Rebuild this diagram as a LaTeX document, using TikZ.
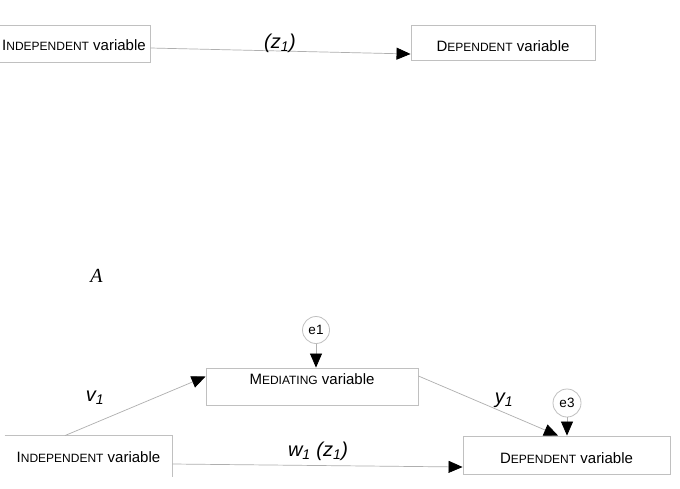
\documentclass[tikz,border=0pt]{standalone}
\usepackage{fontspec}
\setmainfont{Liberation Sans}
\newfontfamily\serifA{Liberation Serif}
\usetikzlibrary{arrows.meta,calc}
\definecolor{boxgray}{RGB}{192,192,192}
\definecolor{linegray}{RGB}{175,175,175}
\newcommand{\smc}[2]{#1{\fontsize{12}{14}\selectfont #2}}
\newcommand{\labsub}[1]{\textsubscript{\fontsize{14}{16}\selectfont #1}}
\begin{document}
\begin{tikzpicture}[x=1pt,y=-1pt,
  box/.style={draw=boxgray, line width=0.9pt, rectangle, inner sep=0pt, font=\fontsize{15}{18}\selectfont},
  errc/.style={draw=boxgray, line width=0.8pt, circle, inner sep=0pt, minimum size=27pt, font=\fontsize{13.5}{16}\selectfont},
  conn/.style={draw=linegray, line width=0.7pt, -{Triangle[length=14pt,width=12pt,color=black]}},
  lab/.style={inner sep=0pt, font=\fontsize{20}{24}\selectfont\itshape}]
\clip (0,0) rectangle (680,488);
\fill[white] (0,0) rectangle (680,488);
% top model
\node[box, minimum width=152, minimum height=37, text height=13pt, text depth=0pt] (ind1) at (74,43.5) {\smc{I}{NDEPENDENT} variable};
\node[box, minimum width=184, minimum height=35, text height=17pt, text depth=0pt] (dep1) at (503,42.5) {\smc{D}{EPENDENT} variable};
\draw[conn] ($(ind1.east)+(0,4.5)$) -- ($(dep1.west)+(0,11.5)$);
\node[lab] (z1) at (280,43) {(z\labsub{1})};
% label A
\node[inner sep=0pt, font=\serifA\fontsize{20}{24}\selectfont\itshape] (labA) at (96.5,276) {A};
% bottom model
\node[box, minimum width=212, minimum height=37, text height=5pt, text depth=10pt] (med) at (312,386.5) {\smc{M}{EDIATING} variable};
\node[box, draw=none, minimum width=167, minimum height=41, text height=12pt, text depth=0pt] (ind2) at (88.5,456.5) {\smc{I}{NDEPENDENT} variable};
\draw[boxgray, line width=0.9pt] (ind2.north west) -- (ind2.north east) -- (ind2.south east);
\node[box, minimum width=207, minimum height=38, text height=16pt, text depth=0pt] (dep2) at (566.5,455) {\smc{D}{EPENDENT} variable};
\node[errc] (e1) at (316,330) {e1};
\node[errc, minimum size=28pt] (e3) at (567,403) {e3};
\draw[conn] ($(ind2.north)+(-23.5,0)$) -- ($(med.west)+(0,-10)$);
\draw[conn] (e1.south) -- (e1.south |- med.north);
\draw[conn] ($(med.east)+(0,-10.5)$) -- ($(dep2.north)+(-8.5,0)$);
\draw[conn] (e3.south) -- (e3.south |- dep2.north);
\draw[conn] ($(ind2.east)+(0,7.5)$) -- ($(dep2.west)+(0,12)$);
\node[lab] (v1) at (95,398) {v\labsub{1}};
\node[lab] (y1) at (504,400) {y\labsub{1}};
\node[lab] (w1) at (318,451) {w\labsub{1} (z\labsub{1})};
\end{tikzpicture}
\end{document}
